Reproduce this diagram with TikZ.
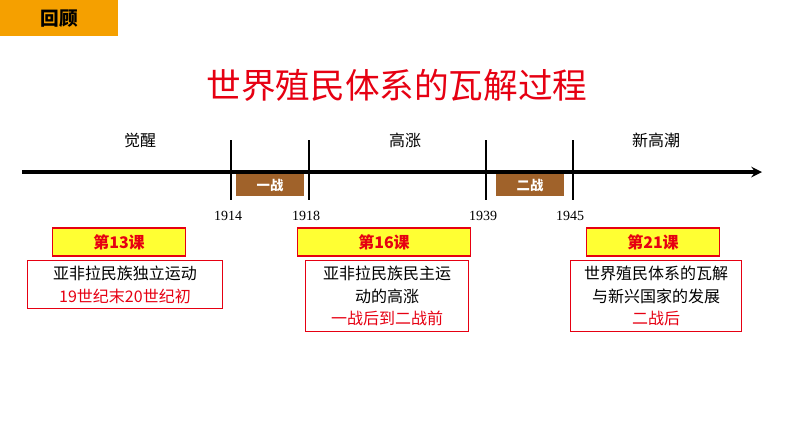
\documentclass[tikz,border=0pt]{standalone}
\usepackage{fontspec}
\setmainfont{Noto Sans CJK SC}
\newfontfamily\yearfont{Liberation Serif}
\usetikzlibrary{positioning}

\definecolor{huigu}{HTML}{F5A000}
\definecolor{titlered}{HTML}{E60012}
\definecolor{warbrown}{HTML}{A0622A}
\definecolor{lessony}{HTML}{FFFF33}

\begin{document}
\begin{tikzpicture}[x=0.75pt, y=-0.75pt]
  \tikzstyle{stage}=[font=\fontsize{12}{14}\selectfont]
  \tikzstyle{year}=[font=\yearfont\fontsize{10.5}{12}\selectfont]
  \tikzstyle{war}=[fill = warbrown, text = white, minimum width = 51pt, minimum height = 16pt, font=\bfseries\fontsize{10}{12}\selectfont]
  \tikzstyle{lesson}=[draw = titlered, fill = lessony, thick, minimum height = 21pt, font=\bfseries\fontsize{12}{14}\selectfont, text = titlered]
  \tikzstyle{content}=[draw = titlered, thick, align = center, font=\fontsize{12}{17}\selectfont, anchor = north, inner sep = 4pt]
  \tikzstyle{tick}=[line width = 1.8pt]

  \useasboundingbox (0,0) rectangle (794,447);

  \node[fill = huigu, minimum width = 88.5pt, minimum height = 27pt, anchor = north west, font=\bfseries\fontsize{14}{16}\selectfont] (review) at (0,0) {回顾};
  \node[text = titlered, font=\fontsize{26}{30}\selectfont] (title) at (397,85) {世界殖民体系的瓦解过程};

  \coordinate (axisstart) at (22,172);
  \coordinate (axisend) at (762,172);
  \draw[-stealth, line width = 2.5pt] (axisstart) -- (axisend);

  \node[stage] (awake) at (140,140) {觉醒};
  \node[stage] (rise) at (405,140) {高涨};
  \node[stage] (newrise) at (656,140) {新高潮};

  \foreach \x/\yr in {231/1914, 309/1918, 486/1939, 573/1945}
  {
    \coordinate (top\yr) at (\x,140);
    \coordinate (bot\yr) at (\x,200);
    \draw[tick] (top\yr) -- (bot\yr);
    \node[year] (y\yr) at (\x-3,216) {\yr};
  }

  \node[war] (ww1) at (270,185) {一战};
  \node[war] (ww2) at (530,185) {二战};

  \node[lesson, minimum width = 100pt] (l13) at (119,242) {第13课};
  \node[lesson, minimum width = 130pt] (l16) at (384,242) {第16课};
  \node[lesson, minimum width = 100pt] (l21) at (653,242) {第21课};

  \node[content, text width = 138pt] (c13) at (125,260) {亚非拉民族独立运动\\\textcolor{titlered}{19世纪末20世纪初}};
  \node[content, text width = 114pt] (c16) at (387,260) {亚非拉民族民主运\\动的高涨\\\textcolor{titlered}{一战后到二战前}};
  \node[content, text width = 120pt] (c21) at (656,260) {世界殖民体系的瓦解\\与新兴国家的发展\\\textcolor{titlered}{二战后}};
\end{tikzpicture}
\end{document}
